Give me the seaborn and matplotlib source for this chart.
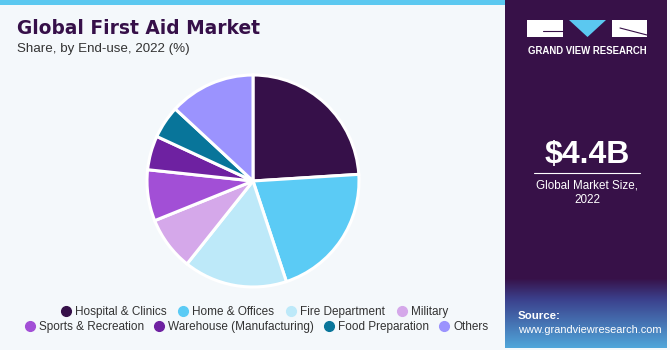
import numpy as np
import matplotlib
matplotlib.use("Agg")
import matplotlib.pyplot as plt
import seaborn as sns
from matplotlib.patches import Rectangle, Polygon
from matplotlib.lines import Line2D

# ---- data ----
categories = ["Hospital & Clinics", "Home & Offices", "Fire Department", "Military",
              "Sports & Recreation", "Warehouse (Manufacturing)", "Food Preparation", "Others"]
shares = [24.0, 20.9, 15.8, 8.2, 7.8, 5.2, 5.0, 13.1]
colors = ["#361049", "#5BCBF5", "#BDE9F9", "#D5A8EA", "#A24FD6", "#6E21A1", "#08759A", "#9B93FE"]
title = "Global First Aid Market"
subtitle = "Share, by End-use, 2022 (%)"
market_size = "$4.4B"
market_label = "Global Market Size,\n2022"

sns.set_theme(style="white")
plt.rcParams['font.family'] = ['Liberation Sans', 'DejaVu Sans']

W, H = 670, 350
fig = plt.figure(figsize=(W / 100, H / 100), dpi=100)
fig.patch.set_facecolor("#F4F8FB")

bg = fig.add_axes([0, 0, 1, 1])
bg.set_xlim(0, W)
bg.set_ylim(H, 0)
bg.axis("off")
bg.set_facecolor("none")

# top strip
bg.add_patch(Rectangle((0, 0), 505, 5, color="#5BC8F0", lw=0))
# right panel
bg.add_patch(Rectangle((505, 0), 162, 348, color="#371148", lw=0))
# gradient bottom of panel
c0 = np.array([0x37, 0x11, 0x48]) / 255
c1 = np.array([0x3B, 0x40, 0x8C]) / 255
c2 = np.array([0x50, 0xA6, 0xDA]) / 255
n = 100
img = np.zeros((n, 1, 3))
for i in range(n):
    g = i / (n - 1)
    if g < 0.3:
        t = g / 0.3
        img[i, 0] = c0 * (1 - t) + c1 * t
    else:
        t = (g - 0.3) / 0.7
        img[i, 0] = c1 * (1 - t) + c2 * t
bg.imshow(img, extent=(505, 667, 348, 278), aspect="auto", zorder=1)
bg.set_xlim(0, W)
bg.set_ylim(H, 0)

# logo
bg.add_patch(Rectangle((527, 20), 36, 17, color="white", lw=0, zorder=2))
bg.add_patch(Polygon([(569, 20), (606, 20), (587.5, 37)], closed=True, color="#5BC8F0", lw=0, zorder=2))
bg.add_patch(Rectangle((612, 20), 35, 17, color="white", lw=0, zorder=2))
bg.plot([543, 563], [31, 31], color="#371148", lw=0.8, zorder=3)
bg.plot([620, 647], [28, 35], color="#371148", lw=0.8, zorder=3)
bg.text(587, 51, "GRAND VIEW RESEARCH", color="white", fontsize=6.9, fontweight="bold",
        ha="center", va="center", zorder=3)

bg.text(587, 155, market_size, color="white", fontsize=23, fontweight="bold",
        ha="center", va="center", zorder=3)
bg.plot([534, 640], [173, 173], color="white", lw=0.8, zorder=3)
bg.text(587, 193, market_label, color="white", fontsize=8.4, ha="center", va="center",
        linespacing=1.3, zorder=3)
bg.text(518, 316, "Source:", color="white", fontsize=8.2, fontweight="bold",
        ha="left", va="center", zorder=3)
bg.text(518, 330, "www.grandviewresearch.com", color="white", fontsize=7.9,
        ha="left", va="center", zorder=3)

# titles
bg.text(17, 28, title, color="#361049", fontsize=13.4, fontweight="bold",
        family=["DejaVu Sans"], ha="left", va="center")
bg.text(17, 49, subtitle, color="#333333", fontsize=9.6, ha="left", va="center")

# pie
cx, cy, r = 253, 181, 106
pax = fig.add_axes([(cx - r) / W, (H - cy - r) / H, 2 * r / W, 2 * r / H])
pax.pie(shares, colors=colors, startangle=90, counterclock=False,
        wedgeprops=dict(edgecolor="white", linewidth=2.2))
pax.set_xlim(-1, 1)
pax.set_ylim(-1, 1)
pax.set_aspect("auto")
pax.axis("off")

# legend (two rows)
handles = [Line2D([0], [0], marker="o", linestyle="", markersize=7,
                  markerfacecolor=c, markeredgecolor=c) for c in colors]
leg_kw = dict(frameon=False, fontsize=8.5, handletextpad=0.25,
              handlelength=1.0, borderaxespad=0, borderpad=0)
l1 = fig.legend(handles[:4], categories[:4], ncol=4, loc="center", columnspacing=0.95,
                bbox_to_anchor=(254 / W, 1 - 312 / H), **leg_kw)
l2 = fig.legend(handles[4:], categories[4:], ncol=4, loc="center", columnspacing=0.8,
                bbox_to_anchor=(256 / W, 1 - 327 / H), **leg_kw)
for l in (l1, l2):
    for t in l.get_texts():
        t.set_color("#333333")

fig.savefig("out.png", dpi=100, facecolor=fig.get_facecolor())
